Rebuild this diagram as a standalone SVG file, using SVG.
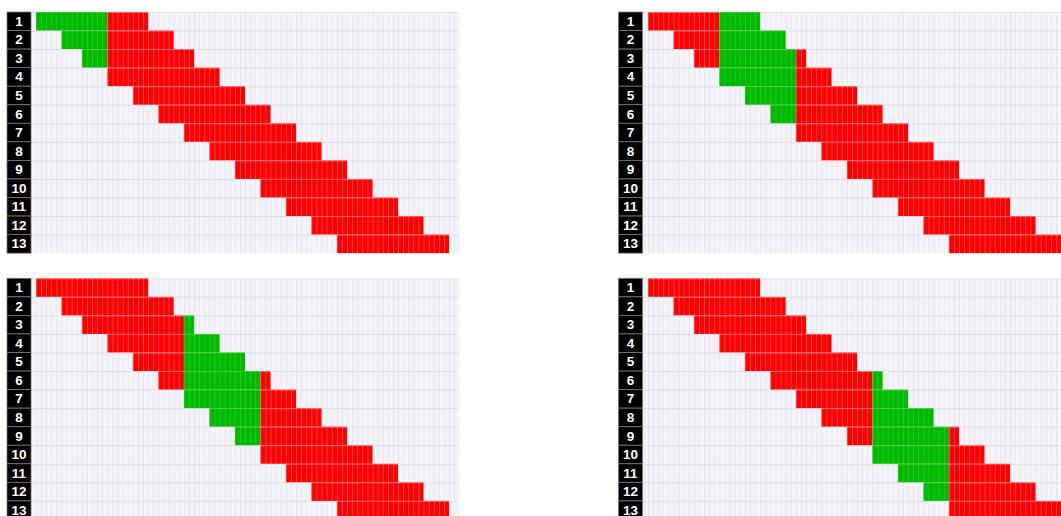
<svg xmlns="http://www.w3.org/2000/svg" width="1061" height="516" viewBox="0 0 1061 516">
<style>
.lbl{fill:#000;stroke:#7a7a7a;stroke-width:0.8}
.num{fill:#fff;font-family:"Liberation Sans",Arial,sans-serif;font-weight:bold;font-size:13.5px;text-anchor:middle}
.rt{fill:url(#redT)}.gt{fill:url(#greenT)}
.rb{fill:url(#redB)}.gb{fill:url(#greenB)}
</style>
<defs>
<pattern id="gridT" patternUnits="userSpaceOnUse" x="36" y="12" width="5.1" height="18.55"><rect width="5.1" height="18.55" fill="#f4f3f8"/><rect width="0.7" height="18.55" fill="#e5e4ec"/><rect width="5.1" height="0.8" fill="#dedde5"/></pattern>
<pattern id="gridB" patternUnits="userSpaceOnUse" x="36" y="278.3" width="5.1" height="18.55"><rect width="5.1" height="18.55" fill="#f4f3f8"/><rect width="0.7" height="18.55" fill="#e5e4ec"/><rect width="5.1" height="0.8" fill="#dedde5"/></pattern>
<pattern id="redT" patternUnits="userSpaceOnUse" x="36" y="12" width="5.1" height="18.55"><rect width="5.1" height="18.55" fill="#ff0000"/><rect width="0.7" height="18.55" fill="#ff5a5a"/><rect width="5.1" height="0.8" fill="#ff7070"/></pattern>
<pattern id="redB" patternUnits="userSpaceOnUse" x="36" y="278.3" width="5.1" height="18.55"><rect width="5.1" height="18.55" fill="#ff0000"/><rect width="0.7" height="18.55" fill="#ff5a5a"/><rect width="5.1" height="0.8" fill="#ff7070"/></pattern>
<pattern id="greenT" patternUnits="userSpaceOnUse" x="36" y="12" width="5.1" height="18.55"><rect width="5.1" height="18.55" fill="#00ba00"/><rect width="0.7" height="18.55" fill="#2cc82c"/><rect width="5.1" height="0.8" fill="#40cc40"/></pattern>
<pattern id="greenB" patternUnits="userSpaceOnUse" x="36" y="278.3" width="5.1" height="18.55"><rect width="5.1" height="18.55" fill="#00ba00"/><rect width="0.7" height="18.55" fill="#2cc82c"/><rect width="5.1" height="0.8" fill="#40cc40"/></pattern>
</defs>
<rect width="1061" height="516" fill="#fff"/>

<g id="panel-top-left">
<rect x="31" y="12" width="428.3" height="241.15" fill="url(#gridT)"/>
<g id="labels-tl">
<rect class="lbl" x="7" y="12" width="24" height="18.55"/><text class="num" x="19" y="25.8">1</text>
<rect class="lbl" x="7" y="30.55" width="24" height="18.55"/><text class="num" x="19" y="44.35">2</text>
<rect class="lbl" x="7" y="49.1" width="24" height="18.55"/><text class="num" x="19" y="62.9">3</text>
<rect class="lbl" x="7" y="67.65" width="24" height="18.55"/><text class="num" x="19" y="81.45">4</text>
<rect class="lbl" x="7" y="86.2" width="24" height="18.55"/><text class="num" x="19" y="100">5</text>
<rect class="lbl" x="7" y="104.75" width="24" height="18.55"/><text class="num" x="19" y="118.55">6</text>
<rect class="lbl" x="7" y="123.3" width="24" height="18.55"/><text class="num" x="19" y="137.1">7</text>
<rect class="lbl" x="7" y="141.85" width="24" height="18.55"/><text class="num" x="19" y="155.65">8</text>
<rect class="lbl" x="7" y="160.4" width="24" height="18.55"/><text class="num" x="19" y="174.2">9</text>
<rect class="lbl" x="7" y="178.95" width="24" height="18.55"/><text class="num" x="19" y="192.75">10</text>
<rect class="lbl" x="7" y="197.5" width="24" height="18.55"/><text class="num" x="19" y="211.3">11</text>
<rect class="lbl" x="7" y="216.05" width="24" height="18.55"/><text class="num" x="19" y="229.85">12</text>
<rect class="lbl" x="7" y="234.6" width="24" height="18.55"/><text class="num" x="19" y="248.4">13</text>
</g>
<g id="bars-tl">
<rect class="gt" x="36" y="12" width="71.4" height="18.55"/><rect class="rt" x="107.4" y="12" width="40.8" height="18.55"/>
<rect class="gt" x="61.5" y="30.55" width="45.9" height="18.55"/><rect class="rt" x="107.4" y="30.55" width="66.3" height="18.55"/>
<rect class="gt" x="81.9" y="49.1" width="25.5" height="18.55"/><rect class="rt" x="107.4" y="49.1" width="86.7" height="18.55"/>
<rect class="rt" x="107.4" y="67.65" width="112.2" height="18.55"/>
<rect class="rt" x="132.9" y="86.2" width="112.2" height="18.55"/>
<rect class="rt" x="158.4" y="104.75" width="112.2" height="18.55"/>
<rect class="rt" x="183.9" y="123.3" width="112.2" height="18.55"/>
<rect class="rt" x="209.4" y="141.85" width="112.2" height="18.55"/>
<rect class="rt" x="234.9" y="160.4" width="112.2" height="18.55"/>
<rect class="rt" x="260.4" y="178.95" width="112.2" height="18.55"/>
<rect class="rt" x="285.9" y="197.5" width="112.2" height="18.55"/>
<rect class="rt" x="311.4" y="216.05" width="112.2" height="18.55"/>
<rect class="rt" x="336.9" y="234.6" width="112.2" height="18.55"/>
</g>
</g>

<g id="panel-top-right">
<rect x="643" y="12" width="418" height="241.15" fill="url(#gridT)"/>
<g id="labels-tr">
<rect class="lbl" x="618.5" y="12" width="24" height="18.55"/><text class="num" x="630.5" y="25.8">1</text>
<rect class="lbl" x="618.5" y="30.55" width="24" height="18.55"/><text class="num" x="630.5" y="44.35">2</text>
<rect class="lbl" x="618.5" y="49.1" width="24" height="18.55"/><text class="num" x="630.5" y="62.9">3</text>
<rect class="lbl" x="618.5" y="67.65" width="24" height="18.55"/><text class="num" x="630.5" y="81.45">4</text>
<rect class="lbl" x="618.5" y="86.2" width="24" height="18.55"/><text class="num" x="630.5" y="100">5</text>
<rect class="lbl" x="618.5" y="104.75" width="24" height="18.55"/><text class="num" x="630.5" y="118.55">6</text>
<rect class="lbl" x="618.5" y="123.3" width="24" height="18.55"/><text class="num" x="630.5" y="137.1">7</text>
<rect class="lbl" x="618.5" y="141.85" width="24" height="18.55"/><text class="num" x="630.5" y="155.65">8</text>
<rect class="lbl" x="618.5" y="160.4" width="24" height="18.55"/><text class="num" x="630.5" y="174.2">9</text>
<rect class="lbl" x="618.5" y="178.95" width="24" height="18.55"/><text class="num" x="630.5" y="192.75">10</text>
<rect class="lbl" x="618.5" y="197.5" width="24" height="18.55"/><text class="num" x="630.5" y="211.3">11</text>
<rect class="lbl" x="618.5" y="216.05" width="24" height="18.55"/><text class="num" x="630.5" y="229.85">12</text>
<rect class="lbl" x="618.5" y="234.6" width="24" height="18.55"/><text class="num" x="630.5" y="248.4">13</text>
</g>
<g id="bars-tr">
<rect class="rt" x="648" y="12" width="71.4" height="18.55"/><rect class="gt" x="719.4" y="12" width="40.8" height="18.55"/>
<rect class="rt" x="673.5" y="30.55" width="45.9" height="18.55"/><rect class="gt" x="719.4" y="30.55" width="66.3" height="18.55"/>
<rect class="rt" x="693.9" y="49.1" width="25.5" height="18.55"/><rect class="gt" x="719.4" y="49.1" width="76.5" height="18.55"/><rect class="rt" x="795.9" y="49.1" width="10.2" height="18.55"/>
<rect class="gt" x="719.4" y="67.65" width="76.5" height="18.55"/><rect class="rt" x="795.9" y="67.65" width="35.7" height="18.55"/>
<rect class="gt" x="744.9" y="86.2" width="51" height="18.55"/><rect class="rt" x="795.9" y="86.2" width="61.2" height="18.55"/>
<rect class="gt" x="770.4" y="104.75" width="25.5" height="18.55"/><rect class="rt" x="795.9" y="104.75" width="86.7" height="18.55"/>
<rect class="rt" x="795.9" y="123.3" width="112.2" height="18.55"/>
<rect class="rt" x="821.4" y="141.85" width="112.2" height="18.55"/>
<rect class="rt" x="846.9" y="160.4" width="112.2" height="18.55"/>
<rect class="rt" x="872.4" y="178.95" width="112.2" height="18.55"/>
<rect class="rt" x="897.9" y="197.5" width="112.2" height="18.55"/>
<rect class="rt" x="923.4" y="216.05" width="112.2" height="18.55"/>
<rect class="rt" x="948.9" y="234.6" width="112.2" height="18.55"/>
</g>
</g>

<g id="panel-bottom-left">
<rect x="31" y="278.3" width="428.3" height="241.15" fill="url(#gridB)"/>
<g id="labels-bl">
<rect class="lbl" x="7" y="278.3" width="24" height="18.55"/><text class="num" x="19" y="292.1">1</text>
<rect class="lbl" x="7" y="296.85" width="24" height="18.55"/><text class="num" x="19" y="310.65">2</text>
<rect class="lbl" x="7" y="315.4" width="24" height="18.55"/><text class="num" x="19" y="329.2">3</text>
<rect class="lbl" x="7" y="333.95" width="24" height="18.55"/><text class="num" x="19" y="347.75">4</text>
<rect class="lbl" x="7" y="352.5" width="24" height="18.55"/><text class="num" x="19" y="366.3">5</text>
<rect class="lbl" x="7" y="371.05" width="24" height="18.55"/><text class="num" x="19" y="384.85">6</text>
<rect class="lbl" x="7" y="389.6" width="24" height="18.55"/><text class="num" x="19" y="403.4">7</text>
<rect class="lbl" x="7" y="408.15" width="24" height="18.55"/><text class="num" x="19" y="421.95">8</text>
<rect class="lbl" x="7" y="426.7" width="24" height="18.55"/><text class="num" x="19" y="440.5">9</text>
<rect class="lbl" x="7" y="445.25" width="24" height="18.55"/><text class="num" x="19" y="459.05">10</text>
<rect class="lbl" x="7" y="463.8" width="24" height="18.55"/><text class="num" x="19" y="477.6">11</text>
<rect class="lbl" x="7" y="482.35" width="24" height="18.55"/><text class="num" x="19" y="496.15">12</text>
<rect class="lbl" x="7" y="500.9" width="24" height="18.55"/><text class="num" x="19" y="514.7">13</text>
</g>
<g id="bars-bl">
<rect class="rb" x="36" y="278.3" width="112.2" height="18.55"/>
<rect class="rb" x="61.5" y="296.85" width="112.2" height="18.55"/>
<rect class="rb" x="81.9" y="315.4" width="102" height="18.55"/><rect class="gb" x="183.9" y="315.4" width="10.2" height="18.55"/>
<rect class="rb" x="107.4" y="333.95" width="76.5" height="18.55"/><rect class="gb" x="183.9" y="333.95" width="35.7" height="18.55"/>
<rect class="rb" x="132.9" y="352.5" width="51" height="18.55"/><rect class="gb" x="183.9" y="352.5" width="61.2" height="18.55"/>
<rect class="rb" x="158.4" y="371.05" width="25.5" height="18.55"/><rect class="gb" x="183.9" y="371.05" width="76.5" height="18.55"/><rect class="rb" x="260.4" y="371.05" width="10.2" height="18.55"/>
<rect class="gb" x="183.9" y="389.6" width="76.5" height="18.55"/><rect class="rb" x="260.4" y="389.6" width="35.7" height="18.55"/>
<rect class="gb" x="209.4" y="408.15" width="51" height="18.55"/><rect class="rb" x="260.4" y="408.15" width="61.2" height="18.55"/>
<rect class="gb" x="234.9" y="426.7" width="25.5" height="18.55"/><rect class="rb" x="260.4" y="426.7" width="86.7" height="18.55"/>
<rect class="rb" x="260.4" y="445.25" width="112.2" height="18.55"/>
<rect class="rb" x="285.9" y="463.8" width="112.2" height="18.55"/>
<rect class="rb" x="311.4" y="482.35" width="112.2" height="18.55"/>
<rect class="rb" x="336.9" y="500.9" width="112.2" height="18.55"/>
</g>
</g>

<g id="panel-bottom-right">
<rect x="643" y="278.3" width="418" height="241.15" fill="url(#gridB)"/>
<g id="labels-br">
<rect class="lbl" x="618.5" y="278.3" width="24" height="18.55"/><text class="num" x="630.5" y="292.1">1</text>
<rect class="lbl" x="618.5" y="296.85" width="24" height="18.55"/><text class="num" x="630.5" y="310.65">2</text>
<rect class="lbl" x="618.5" y="315.4" width="24" height="18.55"/><text class="num" x="630.5" y="329.2">3</text>
<rect class="lbl" x="618.5" y="333.95" width="24" height="18.55"/><text class="num" x="630.5" y="347.75">4</text>
<rect class="lbl" x="618.5" y="352.5" width="24" height="18.55"/><text class="num" x="630.5" y="366.3">5</text>
<rect class="lbl" x="618.5" y="371.05" width="24" height="18.55"/><text class="num" x="630.5" y="384.85">6</text>
<rect class="lbl" x="618.5" y="389.6" width="24" height="18.55"/><text class="num" x="630.5" y="403.4">7</text>
<rect class="lbl" x="618.5" y="408.15" width="24" height="18.55"/><text class="num" x="630.5" y="421.95">8</text>
<rect class="lbl" x="618.5" y="426.7" width="24" height="18.55"/><text class="num" x="630.5" y="440.5">9</text>
<rect class="lbl" x="618.5" y="445.25" width="24" height="18.55"/><text class="num" x="630.5" y="459.05">10</text>
<rect class="lbl" x="618.5" y="463.8" width="24" height="18.55"/><text class="num" x="630.5" y="477.6">11</text>
<rect class="lbl" x="618.5" y="482.35" width="24" height="18.55"/><text class="num" x="630.5" y="496.15">12</text>
<rect class="lbl" x="618.5" y="500.9" width="24" height="18.55"/><text class="num" x="630.5" y="514.7">13</text>
</g>
<g id="bars-br">
<rect class="rb" x="648" y="278.3" width="112.2" height="18.55"/>
<rect class="rb" x="673.5" y="296.85" width="112.2" height="18.55"/>
<rect class="rb" x="693.9" y="315.4" width="112.2" height="18.55"/>
<rect class="rb" x="719.4" y="333.95" width="112.2" height="18.55"/>
<rect class="rb" x="744.9" y="352.5" width="112.2" height="18.55"/>
<rect class="rb" x="770.4" y="371.05" width="102" height="18.55"/><rect class="gb" x="872.4" y="371.05" width="10.2" height="18.55"/>
<rect class="rb" x="795.9" y="389.6" width="76.5" height="18.55"/><rect class="gb" x="872.4" y="389.6" width="35.7" height="18.55"/>
<rect class="rb" x="821.4" y="408.15" width="51" height="18.55"/><rect class="gb" x="872.4" y="408.15" width="61.2" height="18.55"/>
<rect class="rb" x="846.9" y="426.7" width="25.5" height="18.55"/><rect class="gb" x="872.4" y="426.7" width="76.5" height="18.55"/><rect class="rb" x="948.9" y="426.7" width="10.2" height="18.55"/>
<rect class="gb" x="872.4" y="445.25" width="76.5" height="18.55"/><rect class="rb" x="948.9" y="445.25" width="35.7" height="18.55"/>
<rect class="gb" x="897.9" y="463.8" width="51" height="18.55"/><rect class="rb" x="948.9" y="463.8" width="61.2" height="18.55"/>
<rect class="gb" x="923.4" y="482.35" width="25.5" height="18.55"/><rect class="rb" x="948.9" y="482.35" width="86.7" height="18.55"/>
<rect class="rb" x="948.9" y="500.9" width="112.2" height="18.55"/>
</g>
</g>
<g id="connectors"/>
</svg>
